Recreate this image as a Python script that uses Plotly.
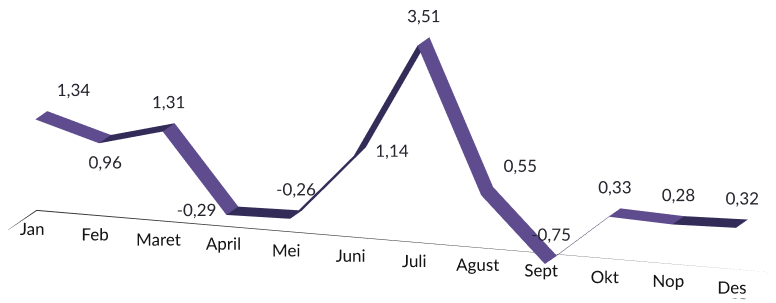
import math
import plotly.graph_objects as go

months = ["Jan", "Feb", "Maret", "April", "Mei", "Juni", "Juli", "Agust", "Sept", "Okt", "Nop", "Des"]
values = [1.34, 0.96, 1.31, -0.29, -0.26, 1.14, 3.51, 0.55, -0.75, 0.33, 0.28, 0.32]
label_pos = ["top right", "bottom center", "top center", "middle left", "top center", "middle right",
             "top center", "top right", "top center", "top center", "top center", "top center"]

X_RANGE = [-0.3, 11.4]
Y_RANGE = [0.0, 1.0]
Z_RANGE = [-0.85, 3.8]
RIB = [0.45, 0.77]
LAB_Y = 0.35

idx = list(range(len(months)))
n = len(idx)

# ribbon mesh (3-D line)
xs, ys, zs = [], [], []
for i, v in zip(idx, values):
    xs += [i, i]
    ys += [RIB[0], RIB[1]]
    zs += [v, v]
I, J, K, fc = [], [], [], []
for s in range(n - 1):
    a, b, c, d = 2 * s, 2 * s + 1, 2 * s + 2, 2 * s + 3
    col = "#342c58" if values[s + 1] > values[s] else "#5e4c8f"
    I += [a, b]; J += [b, d]; K += [c, c]
    fc += [col, col]

fig = go.Figure()
fig.add_trace(go.Mesh3d(x=xs, y=ys, z=zs, i=I, j=J, k=K, facecolor=fc,
                        flatshading=True,
                        lighting=dict(ambient=1, diffuse=0, specular=0, roughness=1, fresnel=0),
                        hoverinfo="skip", showscale=False))

# floor outline (category axis plane)
fx = [X_RANGE[0], X_RANGE[1], X_RANGE[1], X_RANGE[0], X_RANGE[0]]
fy = [Y_RANGE[0], Y_RANGE[0], Y_RANGE[1], Y_RANGE[1], Y_RANGE[0]]
fz = [Z_RANGE[0]] * 5
fig.add_trace(go.Scatter3d(x=fx, y=fy, z=fz, mode="lines",
                           line=dict(color="#333333", width=2), hoverinfo="skip"))

# month names lying on the floor
fig.add_trace(go.Scatter3d(x=idx, y=[LAB_Y] * n, z=[Z_RANGE[0]] * n, mode="text", text=months,
                           textposition="middle center",
                           textfont=dict(family="Lato", size=17, color="#141414"),
                           hoverinfo="skip"))

# value labels
labels = [f"{v:.2f}".replace(".", ",") for v in values]
fig.add_trace(go.Scatter3d(x=idx, y=[sum(RIB) / 2] * n, z=values, mode="text", text=labels,
                           textposition=label_pos,
                           textfont=dict(family="Lato", size=17, color="#26262e"),
                           hoverinfo="skip"))

th = math.radians(19.1)
ph = math.radians(14.0)
unit = (math.sin(th) * math.cos(ph), -math.cos(th) * math.cos(ph), math.sin(ph))
D = 2.2
S = 1.5
CZ = -0.125
SH = 0.035
cx, cy = SH * math.cos(th), SH * math.sin(th)
ax = 3.5 * (X_RANGE[1] - X_RANGE[0]) / 11.8
az = 1.04 * (Z_RANGE[1] - Z_RANGE[0]) / 4.7
ay = 0.5

fig.update_layout(
    width=776, height=303, margin=dict(l=0, r=0, t=0, b=0),
    paper_bgcolor="white", showlegend=False,
    scene=dict(
        domain=dict(x=[0, 1], y=[0, 1]),
        aspectmode="manual", aspectratio=dict(x=ax * S, y=ay * S, z=az * S),
        camera=dict(eye=dict(x=unit[0] * D + cx, y=unit[1] * D + cy, z=unit[2] * D + CZ),
                    center=dict(x=cx, y=cy, z=CZ), up=dict(x=0, y=0, z=1),
                    projection=dict(type="orthographic")),
        xaxis=dict(range=X_RANGE, showticklabels=False, showgrid=False,
                   zeroline=False, showline=False, showbackground=False, title="", ticks="",
                   showspikes=False),
        yaxis=dict(range=Y_RANGE, showticklabels=False, showgrid=False, zeroline=False,
                   showline=False, showbackground=False, title="", ticks="", showspikes=False),
        zaxis=dict(range=Z_RANGE, showticklabels=False, showgrid=False, zeroline=False,
                   showline=False, showbackground=False, title="", ticks="", showspikes=False),
    ),
)
fig.write_html("out.html")
